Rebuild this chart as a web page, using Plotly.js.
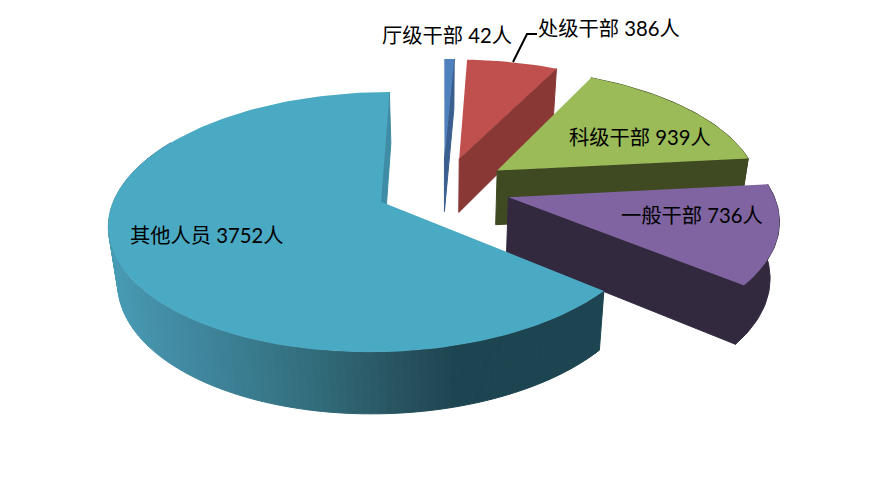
<!DOCTYPE html>
<html><head><meta charset="utf-8">
<script src="https://cdn.plot.ly/plotly-3.0.1.min.js"></script>
<style>html,body{margin:0;padding:0;background:#fff}#c{width:885px;height:501px}</style>
</head><body><div id="c"></div>
<script>
const categories = ["厅级干部","处级干部","科级干部","一般干部","其他人员"];
const counts = [42,386,939,736,3752];
const unit = "人";
const topColors = ["#4F81BD","#C0504D","#9BBB59","#8064A2","#4AA9C3"];
const wallColors = ["#3A5F8F","#8A3836","#3F4A22","#33293F","#1D4551"];
const labelLeft = [380,536,567,619,128];
const labelMid = [35,28,137,215,235];
const leaderX = [513,527,537];
const leaderY = [62,34,34];
const gradStops = [[108,[72,155,180]],[200,[63,133,156]],[300,[51,112,127]],[400,[40,82,95]],[455,[29,69,81]],[900,[29,69,81]]];

// 3D view of the exploded pie
const cx=443, cy=188, A=270, B=125.9, k=0.158, D=55, shrink=0.028, pull=0.25, R=0.974;
const rad=d=>d*Math.PI/180;
function proj(u,v,z){const w=1-k*v, f=1-shrink*z;return [cx+A*u/w*f, cy+B*v/w*f+z*D/w];}
const total=counts.reduce((a,b)=>a+b,0);
let acc=0;
const slices=counts.map(c=>{const s=acc/total*360;acc+=c;const e=acc/total*360;const m=rad((s+e)/2);
  return {s,e,au:pull*Math.sin(m),av:-pull*Math.cos(m)};});
function rim(sl,t,z){return proj(sl.au+R*Math.sin(rad(t)),sl.av-R*Math.cos(rad(t)),z);}
function arcAngles(s,e,step){const a=[];const n=Math.max(1,Math.ceil((e-s)/step));for(let i=0;i<=n;i++)a.push(s+(e-s)*i/n);return a;}
const traces=[];
function poly(pts,color,lw){traces.push({type:'scatter',mode:'lines',x:pts.map(p=>p[0]).concat(pts[0][0]),y:pts.map(p=>p[1]).concat(pts[0][1]),
  fill:'toself',fillcolor:color,line:{color:color,width:lw||0},hoverinfo:'skip',showlegend:false});}
function gradColor(x){for(let i=0;i<gradStops.length-1;i++){const [a,ca]=gradStops[i],[b,cb]=gradStops[i+1];
  if(x<=b){const t=Math.max(0,(x-a)/(b-a));const c=ca.map((v,j)=>Math.round(v+(cb[j]-v)*t));return `rgb(${c})`;}}return `rgb(${gradStops[gradStops.length-1][1]})`;}
function radialWall(sl,t,color){const a=proj(sl.au,sl.av,0),a2=proj(sl.au,sl.av,1),r=rim(sl,t,0),r2=rim(sl,t,1);poly([a,r,r2,a2],color,1);}
slices.forEach((sl,i)=>{
  const ang=arcAngles(sl.s,sl.e,1.5);
  if(i===4){
    radialWall(sl,sl.e,"#3F8CA6");
    for(let j=0;j<ang.length-1 && ang[j]<300;j++){
      const p1=rim(sl,ang[j],0),p2=rim(sl,ang[j+1],0),p3=rim(sl,ang[j+1],1),p4=rim(sl,ang[j],1);
      poly([p1,p2,p3,p4],gradColor((p1[0]+p2[0])/2),1);
    }
  } else {
    radialWall(sl,sl.e,wallColors[i]);
    if(i>1){
      const outer=ang.map(t=>rim(sl,t,0)).concat(ang.slice().reverse().map(t=>rim(sl,t,1)));
      poly(outer,wallColors[i],1);
    }
  }
  const top=[proj(sl.au,sl.av,0)].concat(ang.map(t=>rim(sl,t,0)));
  poly(top,topColors[i],0);
});
traces.push({type:'scatter',mode:'lines',x:leaderX,y:leaderY,line:{color:'#000',width:2},hoverinfo:'skip',showlegend:false});
const annotations=categories.map((c,i)=>({x:labelLeft[i],y:labelMid[i],xref:'x',yref:'y',xanchor:'left',yanchor:'middle',
  showarrow:false,align:'left',text:`${c} ${counts[i]}${unit}`,font:{family:'Lato,"Noto Sans CJK SC",sans-serif',size:20.3,color:'#000'}}));
const hidden={visible:false,fixedrange:true};
Plotly.newPlot('c',traces,{width:885,height:501,margin:{l:0,r:0,t:0,b:0},paper_bgcolor:'#fff',plot_bgcolor:'#fff',showlegend:false,
  xaxis:Object.assign({range:[0,885]},hidden),yaxis:Object.assign({range:[501,0]},hidden),annotations},{displayModeBar:false,staticPlot:true});
</script></body></html>
